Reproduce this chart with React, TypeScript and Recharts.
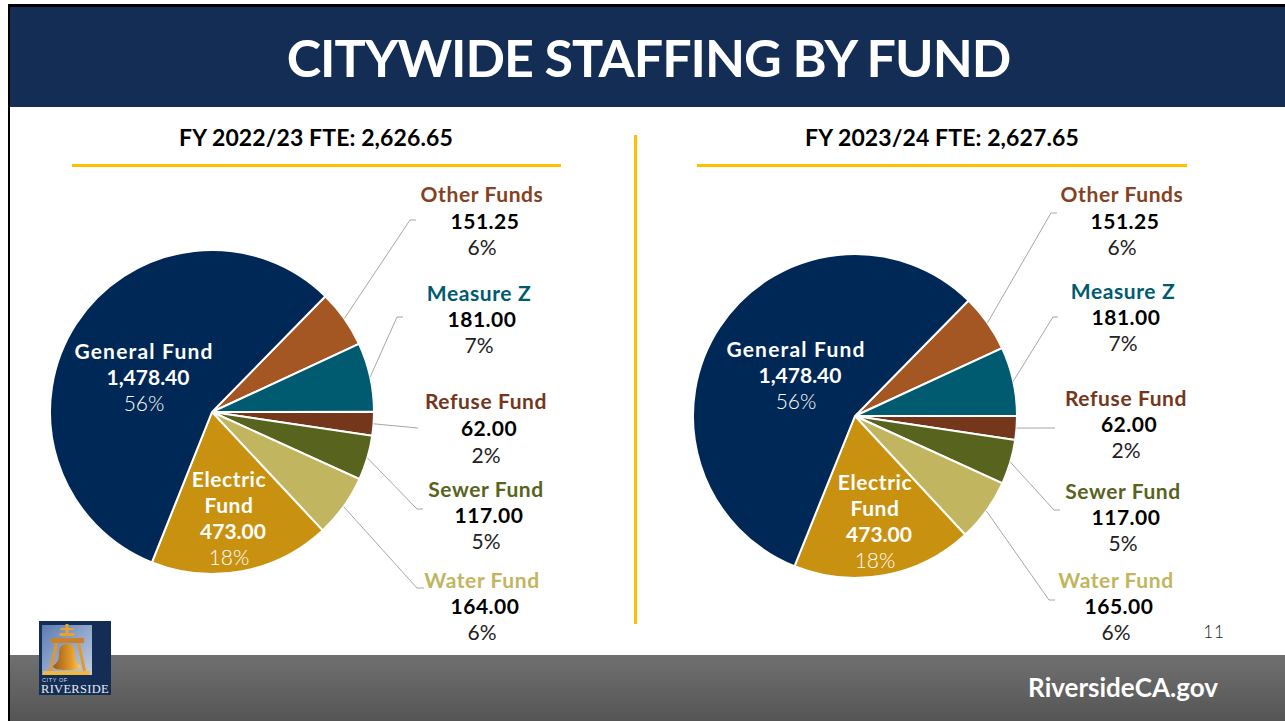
import { PieChart, Pie, Cell } from 'recharts';

const FONT = 'Lato, "Open Sans", sans-serif';

const funds = ['Other Funds', 'Measure Z', 'Refuse Fund', 'Sewer Fund', 'Water Fund', 'Electric Fund', 'General Fund'];
const staffing2223 = [151.25, 181, 62, 117, 164, 473, 1478.4];
const staffing2324 = [151.25, 181, 62, 117, 165, 473, 1478.4];
const percents = ['6%', '7%', '2%', '5%', '6%', '18%', '56%'];

const sliceColors = ['#A55723', '#005A70', '#74371C', '#58631E', '#C1B560', '#C89210', '#002856'];
const nameColors = ['#84421F', '#005A70', '#74371C', '#58631E', '#C1B560', '#FFFFFF', '#FFFFFF'];

const table = (values: number[]) => funds.map((name, i) => ({ name, value: values[i], percent: percents[i] }));

// label placement, hand measured per slice: centre x, first baseline, line gap, optional leader bend
type Place = { x: number; y: number; gap?: number; leader?: number[] };
const placesLeft: Place[] = [
  { x: 482, y: 202, gap: 26.5, leader: [410, 220, 416, 220] },
  { x: 479, y: 301, gap: 26, leader: [397, 317, 403, 317] },
  { x: 486, y: 409, gap: 27, leader: [418, 428] },
  { x: 486, y: 497, leader: [417, 509, 423, 509] },
  { x: 482, y: 588, leader: [417, 588, 424, 588] },
  { x: 229, y: 487 },
  { x: 144, y: 359 },
];
const placesRight: Place[] = [
  { x: 1122, y: 202, gap: 26.5, leader: [1051, 213, 1057, 213] },
  { x: 1123, y: 299, leader: [1053, 317, 1058, 317] },
  { x: 1126, y: 406, leader: [1055, 428] },
  { x: 1123, y: 499, leader: [1054, 510, 1060, 510] },
  { x: 1116, y: 588, leader: [1049, 600, 1055, 600] },
  { x: 875, y: 490 },
  { x: 796, y: 357 },
];

const RAD = Math.PI / 180;
const money = (v: number) => v.toLocaleString('en-US', { minimumFractionDigits: 2, maximumFractionDigits: 2 });

const makeLabel = (places: Place[]) => (props: any) => {
  const { cx, cy, midAngle, outerRadius, index, name, value, payload } = props;
  const place = places[index];
  const inside = !place.leader;
  const gap = place.gap ?? 26;
  const nameLines = name === 'Electric Fund' ? ['Electric', 'Fund'] : [name];
  const numberColor = inside ? '#FFFFFF' : '#000000';
  const sx = cx + outerRadius * Math.cos(-midAngle * RAD);
  const sy = cy + outerRadius * Math.sin(-midAngle * RAD);
  let points = `${sx},${sy}`;
  if (place.leader) {
    for (let i = 0; i < place.leader.length; i += 2) points += ` ${place.leader[i]},${place.leader[i + 1]}`;
  }
  return (
    <g style={{ fontFamily: FONT }} textAnchor="middle">
      {place.leader && <polyline points={points} fill="none" stroke="#A6A6A6" strokeWidth={1} />}
      {nameLines.map((line: string, i: number) => (
        <text key={line} x={place.x} y={place.y + i * gap} fontSize={21} fontWeight={700} letterSpacing={name === 'General Fund' ? 1.2 : 0.6} fill={nameColors[index]}>
          {line}
        </text>
      ))}
      <text x={place.x + (inside ? 4 : 3)} y={place.y + nameLines.length * gap} fontSize={21} fontWeight={700} letterSpacing={inside ? 0 : 0.5} fill={numberColor}>
        {money(value)}
      </text>
      <text x={place.x} y={place.y + (nameLines.length + 1) * gap} fontSize={21} fontWeight={inside ? 300 : 400} fill={inside ? '#FFFFFF' : '#222222'}>
        {payload.percent}
      </text>
    </g>
  );
};

function Logo() {
  return (
    <svg width={72} height={74} style={{ position: 'absolute', left: 39, top: 621 }}>
      <defs>
        <linearGradient id="sky" x1="0" y1="0" x2="1" y2="1">
          <stop offset="0" stopColor="#5B7DB4" />
          <stop offset="1" stopColor="#C5CFE0" />
        </linearGradient>
        <linearGradient id="gold" x1="0" y1="0" x2="1" y2="0">
          <stop offset="0" stopColor="#9A5A18" />
          <stop offset="0.65" stopColor="#E39A28" />
          <stop offset="1" stopColor="#F6CE62" />
        </linearGradient>
      </defs>
      <rect width={72} height={74} fill="#132D55" />
      <rect x={3} y={4} width={50} height={50} fill="url(#sky)" />
      <path d="M26.5 3h3v4h5v2h-5v3h6v3h-15v-3h6v-3h-5v-2h5z" fill="#E8A22E" />
      <path d="M12 17h33v5h-33z" fill="#C9822A" />
      <path d="M16 22h3l-6 28h-3zM38 22h3l6 28h-3z" fill="#E09A2C" />
      <path d="M4 50h47v4h-47z" fill="#F0B840" />
      <path d="M28 23c6 0 8 4 8 10 0 6 2 9 6 12 0 3-6 4-14 4s-14-1-14-4c4-3 6-6 6-12 0-6 2-10 8-10z" fill="url(#gold)" />
      <text x={3} y={61} fontFamily="Liberation Sans" fontSize={5.5} letterSpacing={0.6} fill="#D8DEE8">CITY OF</text>
      <text x={36} y={72} textAnchor="middle" fontFamily="Liberation Serif" fontSize={12.5} letterSpacing={0.3} fill="#E8ECF2">RIVERSIDE</text>
    </svg>
  );
}

const textBox = (left: number, top: number, width: number, extra: React.CSSProperties): React.CSSProperties => ({
  position: 'absolute',
  left,
  top,
  width,
  textAlign: 'center',
  whiteSpace: 'nowrap',
  fontFamily: FONT,
  ...extra,
});

const bar = (left: number, top: number, width: number, height: number): React.CSSProperties => ({
  position: 'absolute',
  left,
  top,
  width,
  height,
  background: '#FFC000',
});

export default function App() {
  return (
    <div style={{ position: 'absolute', left: 0, top: 0, width: 1285, height: 721, overflow: 'hidden', background: '#fff' }}>
      <div style={{ position: 'absolute', left: 8, top: 4, width: 1277, height: 717, background: '#000' }} />
      <div style={{ position: 'absolute', left: 10, top: 7, width: 1275, height: 714, background: '#fff' }} />
      <div style={{ position: 'absolute', left: 10, top: 7, width: 1275, height: 100, background: '#132D55' }} />
      <div style={{ position: 'absolute', left: 10, top: 655, width: 1275, height: 66, background: 'linear-gradient(#707070, #555555)' }} />

      <div style={textBox(10, 27, 1277, { fontSize: 52, lineHeight: '60px', fontWeight: 700, letterSpacing: -1, color: '#fff' })}>CITYWIDE STAFFING BY FUND</div>
      <div style={textBox(116, 122, 400, { fontSize: 23, lineHeight: '30px', fontWeight: 700, letterSpacing: 0.1, color: '#000' })}>FY 2022/23 FTE: 2,626.65</div>
      <div style={textBox(742, 122, 400, { fontSize: 23, lineHeight: '30px', fontWeight: 700, letterSpacing: 0.1, color: '#000' })}>FY 2023/24 FTE: 2,627.65</div>

      <div style={bar(72, 164, 489, 3)} />
      <div style={bar(697, 164, 490, 3)} />
      <div style={bar(634, 135, 3, 489)} />

      <div style={{ position: 'absolute', left: 0, top: 0 }}>
        <PieChart width={1285} height={721} margin={{ top: 0, right: 0, bottom: 0, left: 0 }}>
          <Pie
            data={table(staffing2223)}
            dataKey="value"
            nameKey="name"
            cx={212}
            cy={412}
            outerRadius={162}
            startAngle={45.6}
            endAngle={-314.4}
            stroke="#fff"
            strokeWidth={2}
            label={makeLabel(placesLeft)}
            labelLine={false}
            isAnimationActive={false}
          >
            {funds.map((f, i) => <Cell key={f} fill={sliceColors[i]} />)}
          </Pie>
          <Pie
            data={table(staffing2324)}
            dataKey="value"
            nameKey="name"
            cx={855}
            cy={416}
            outerRadius={162}
            startAngle={45.5}
            endAngle={-314.5}
            stroke="#fff"
            strokeWidth={2}
            label={makeLabel(placesRight)}
            labelLine={false}
            isAnimationActive={false}
          >
            {funds.map((f, i) => <Cell key={f} fill={sliceColors[i]} />)}
          </Pie>
        </PieChart>
      </div>

      <Logo />
      <div style={textBox(1194, 620, 40, { fontSize: 17, lineHeight: '24px', fontWeight: 300, letterSpacing: 1, color: '#222' })}>11</div>
      <div style={textBox(1003, 672, 240, { fontSize: 26, lineHeight: '30px', fontWeight: 700, color: '#fff' })}>RiversideCA.gov</div>
    </div>
  );
}
